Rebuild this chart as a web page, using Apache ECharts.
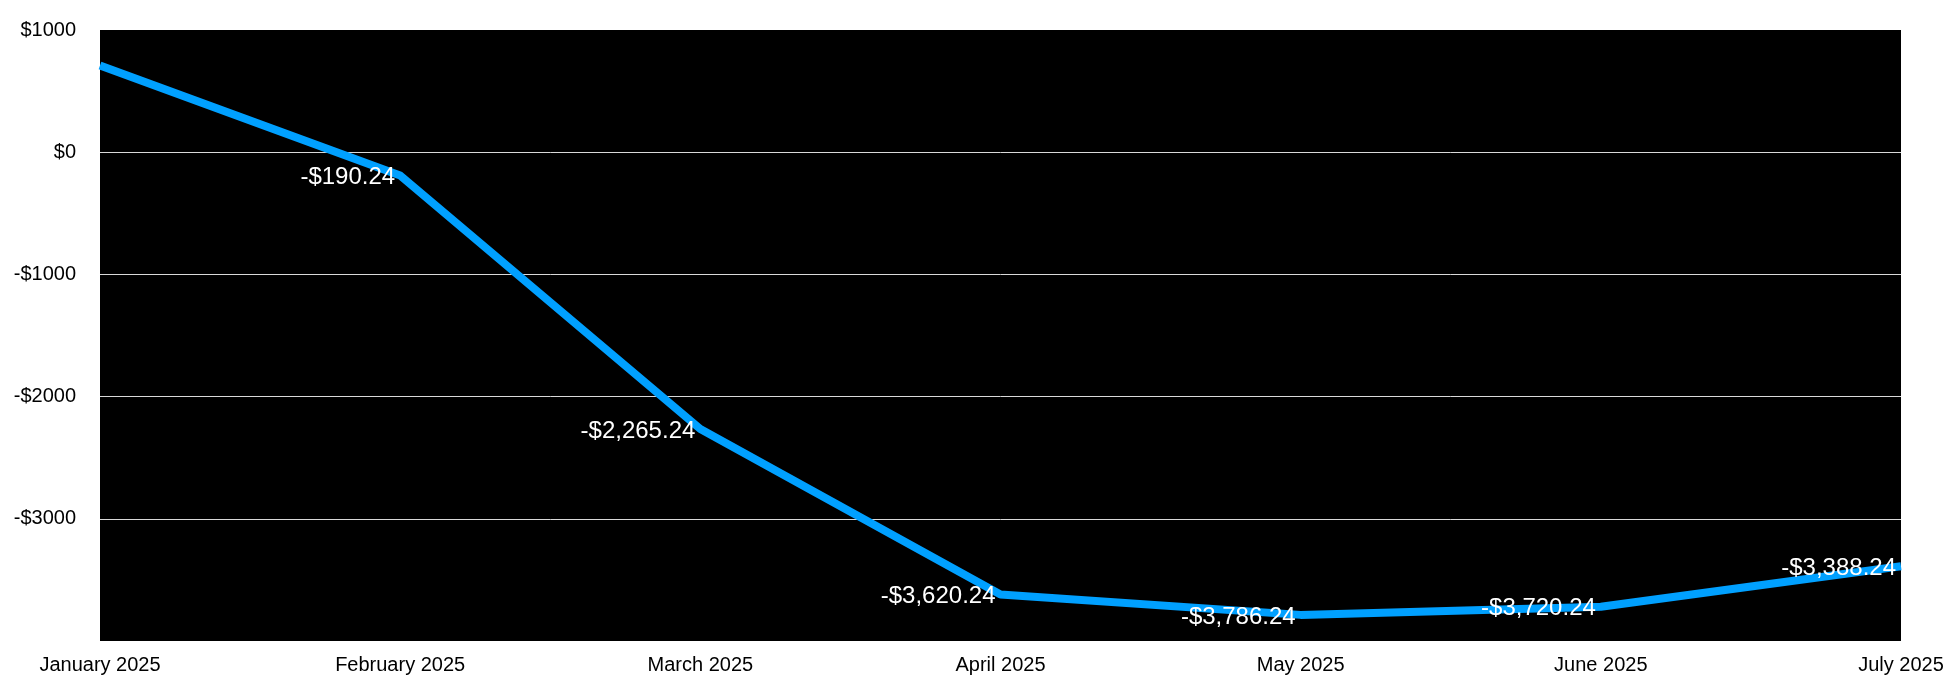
<!DOCTYPE html>
<html>
<head>
<meta charset="utf-8">
<script src="https://cdn.jsdelivr.net/npm/echarts@6/dist/echarts.min.js"></script>
<style>
  html, body { margin: 0; padding: 0; background: #fff; }
  .main { width: 1958px; height: 688px; }
</style>
</head>
<body>
<div class="main"></div>
<script>
var months = ['January 2025', 'February 2025', 'March 2025', 'April 2025', 'May 2025', 'June 2025', 'July 2025'];
var balance = [709.76, -190.24, -2265.24, -3620.24, -3786.24, -3720.24, -3388.24];

var myChart = echarts.init(document.querySelector('.main'));

function money(v) {
    var s = Math.abs(v).toLocaleString('en-US', { minimumFractionDigits: 2, maximumFractionDigits: 2 });
    return (v < 0 ? '-$' : '$') + s;
}

var option = {
    animation: false,
    textStyle: { fontFamily: 'Liberation Sans, Arial, Helvetica, sans-serif' },
    grid: {
        left: 100, right: 57, top: 30, bottom: 47,
        show: true, backgroundColor: '#000', borderWidth: 0
    },
    xAxis: {
        type: 'category',
        data: months,
        boundaryGap: false,
        axisLine: { show: false },
        axisTick: { show: false },
        axisLabel: { color: '#000', fontSize: 20, margin: 14, interval: 0 }
    },
    yAxis: {
        type: 'value',
        min: -4000,
        max: 1000,
        interval: 1000,
        axisLine: { show: false },
        axisTick: { show: false },
        axisLabel: {
            color: '#000', fontSize: 20, margin: 24,
            formatter: function(v) {
                if (v === -4000) return '';
                return (v < 0 ? '-$' : '$') + Math.abs(v);
            }
        },
        splitLine: { show: true, showMinLine: false, showMaxLine: false, lineStyle: { color: '#d9d9d9', width: 1 } }
    },
    series: [{
        type: 'line',
        data: balance.map(function(v, i) {
            return { value: v, label: { show: i > 0 } };
        }),
        symbol: 'circle',
        symbolSize: 0,
        showSymbol: true,
        clip: true,
        lineStyle: { color: '#00a0ff', width: 8, cap: 'butt', join: 'round' },
        itemStyle: { color: '#00a0ff' },
        label: {
            show: true,
            position: 'left',
            distance: 5,
            offset: [0, 2],
            color: '#fff',
            fontSize: 24,
            formatter: function(p) { return money(p.value); }
        }
    }]
};

myChart.setOption(option);
</script>
</body>
</html>
